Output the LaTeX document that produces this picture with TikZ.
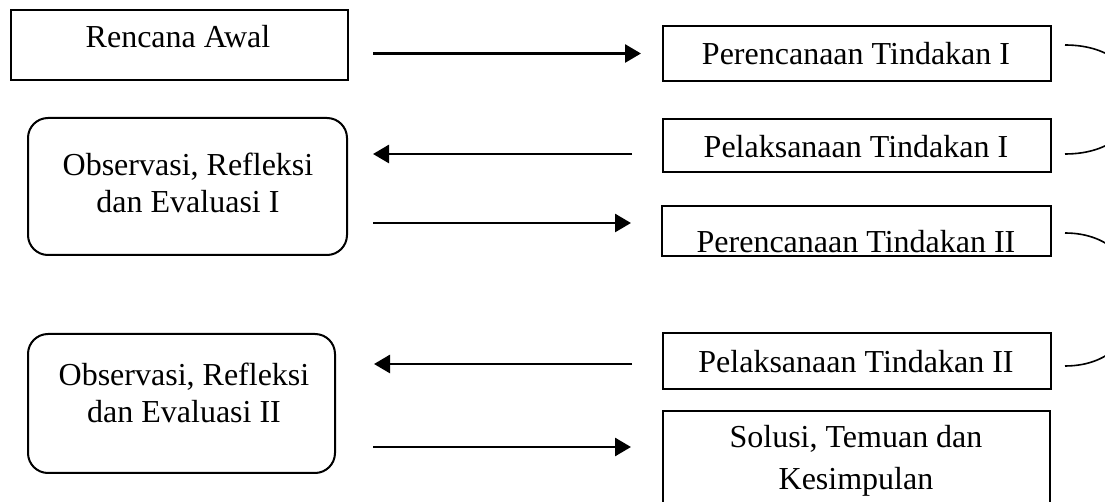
\documentclass[tikz,border=0pt]{standalone}
\usepackage{fontspec}
\setmainfont{Liberation Serif}
\usetikzlibrary{arrows.meta,calc}
\begin{document}
\begin{tikzpicture}[x=0.5pt,y=-0.5pt,
  box/.style={draw,line width=1pt,inner sep=0pt,minimum width=#1},
  rbox/.style={box=#1,rounded corners=10pt},
  lbl/.style={anchor=base,inner sep=0pt,font=\fontsize{16}{18.5}\selectfont,align=center},
  arr/.style={line width=1.4pt,-{Triangle[length=8pt,width=9pt]}},
  link/.style={line width=0.8pt}]
\useasboundingbox (0,0) rectangle (1105,502);
\clip (0,0) rectangle (1105,502);
% boxes
\node[box=168.5pt,minimum height=35pt] (ra) at (179.5,45) {};
\node[rbox=159.5pt,minimum height=68.5pt] (obs1) at (187.5,186.5) {};
\node[rbox=153.5pt,minimum height=69.5pt] (obs2) at (181.5,403.5) {};
\node[box=194pt,minimum height=27.5pt] (pt1) at (857,53.5) {};
\node[box=194pt,minimum height=26.5pt] (pel1) at (857,145.5) {};
\node[box=194.5pt,minimum height=25pt] (pt2) at (856.5,231) {};
\node[box=194pt,minimum height=28pt] (pel2) at (857,361) {};
\node[box=193.5pt,minimum height=64.5pt] (sol) at (856.5,475.5) {};
% texts
\node[lbl] (ra-t) at (178,48) {Rencana Awal};
\node[lbl] (obs1-t) at (188,213) {Observasi, Refleksi\\dan Evaluasi I};
\node[lbl] (obs2-t) at (184,423) {Observasi, Refleksi\\dan Evaluasi II};
\node[lbl] (pt1-t) at (856,65) {Perencanaan Tindakan I};
\node[lbl] (pel1-t) at (856,158) {Pelaksanaan Tindakan I};
\node[lbl] (pt2-t) at (856,253) {Perencanaan Tindakan II};
\node[lbl] (pel2-t) at (856,373) {Pelaksanaan Tindakan II};
\node[lbl,font=\fontsize{16}{21}\selectfont] (sol-t) at (856,490) {Solusi, Temuan dan\\Kesimpulan};
% arrows
\draw[arr,shorten <=12pt,shorten >=10.5pt] (ra.east |- pt1.west) -- (pt1.west);
\coordinate (y2) at ([yshift=-4.25pt]pel1.west);
\draw[arr,shorten <=15pt,shorten >=12.5pt] (y2) -- (obs1.east |- y2);
\coordinate (y3) at ([yshift=4pt]pt2.west);
\draw[arr,shorten <=12.5pt,shorten >=15pt] (obs1.east |- y3) -- (y3);
\coordinate (y4) at ([yshift=-1.5pt]pel2.west);
\draw[arr,shorten <=15pt,shorten >=19pt] (y4) -- (obs2.east |- y4);
\coordinate (y5) at ([yshift=-21.75pt]obs2.east);
\draw[arr,shorten <=18.5pt,shorten >=15.5pt] (y5) -- (sol.west |- y5);
% curved links on the right (cut by the page edge)
\draw[link] ([xshift=6.5pt,yshift=4.25pt]pt1.east) .. controls +(48pt,0) and +(48pt,0) .. ([xshift=6.5pt,yshift=-4.25pt]pel1.east);
\draw[link] ([xshift=6.5pt,yshift=-1pt]pt2.east) .. controls +(48pt,0) and +(48pt,0) .. ([xshift=6.5pt,yshift=-2.5pt]pel2.east);
\end{tikzpicture}
\end{document}
